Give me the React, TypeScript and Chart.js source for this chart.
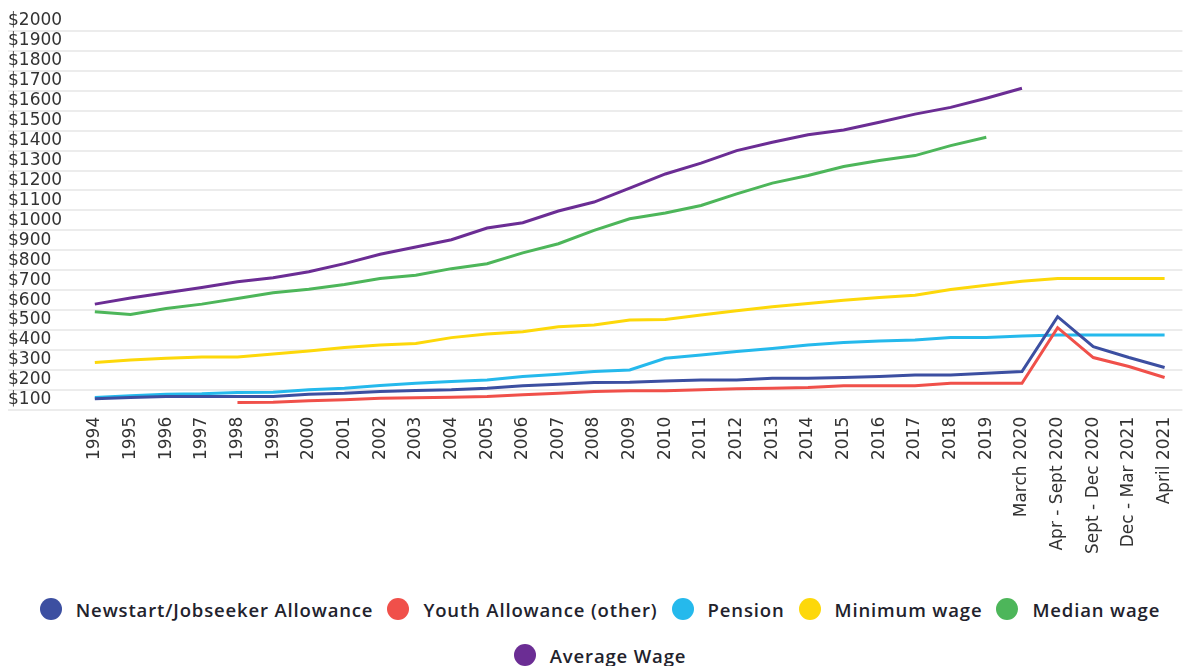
import React, { useEffect, useRef } from "react";
import { Chart, registerables } from "chart.js";

Chart.register(...registerables);

const periods: string[] = [
  "1994", "1995", "1996", "1997", "1998", "1999", "2000", "2001", "2002", "2003",
  "2004", "2005", "2006", "2007", "2008", "2009", "2010", "2011", "2012", "2013",
  "2014", "2015", "2016", "2017", "2018", "2019", "March 2020", "Apr - Sept 2020",
  "Sept - Dec 2020", "Dec - Mar 2021", "April 2021",
];

const newstart: (number | null)[] = [
  155, 162, 167, 167, 167, 167, 178, 183, 192, 197,
  200, 208, 220, 228, 237, 238, 245, 250, 250, 258,
  258, 262, 267, 275, 275, 283, 292, 567, 417, 362, 312,
];

const youthAllowance: (number | null)[] = [
  null, null, null, null, 137, 138, 145, 150, 158, 160,
  163, 167, 175, 183, 192, 195, 195, 200, 205, 208,
  212, 220, 220, 220, 233, 233, 233, 512, 362, 317, 262,
];

const pension: (number | null)[] = [
  162, 170, 178, 180, 187, 188, 200, 208, 222, 233,
  242, 250, 267, 278, 292, 300, 358, 375, 392, 408,
  425, 437, 445, 450, 462, 463, 470, 475, 475, 475, 475,
];

const minimumWage: (number | null)[] = [
  337, 350, 358, 365, 365, 380, 395, 412, 425, 433,
  462, 480, 492, 517, 525, 550, 553, 575, 597, 617,
  633, 650, 663, 675, 703, 725, 745, 758, 758, 758, 758,
];

const medianWage: (number | null)[] = [
  592, 578, 608, 630, 658, 687, 705, 728, 758, 775,
  808, 833, 887, 933, 1000, 1058, 1087, 1125, 1183, 1237,
  1275, 1320, 1350, 1375, 1425, 1467, null, null, null, null, null,
];

const averageWage: (number | null)[] = [
  630, 661, 687, 713, 742, 762, 792, 833, 880, 917,
  953, 1012, 1038, 1097, 1142, 1212, 1283, 1337, 1400, 1442,
  1480, 1503, 1542, 1583, 1617, 1663, 1713, null, null, null, null,
];

const seriesNames: string[] = [
  "Newstart/Jobseeker Allowance",
  "Youth Allowance (other)",
  "Pension",
  "Minimum wage",
  "Median wage",
  "Average Wage",
];

const seriesColors: string[] = [
  "#3c4fa1",
  "#f0504a",
  "#25b9ec",
  "#fdd80a",
  "#4db65a",
  "#6b2d94",
];

const yMin = 100;
const yMax = 2000;
const yStep = 100;

const tickFont = { family: "'DejaVu Sans', sans-serif", size: 17 };

export default function App() {
  const canvasRef = useRef<HTMLCanvasElement | null>(null);

  useEffect(() => {
    const canvas = canvasRef.current;
    if (!canvas) return;
    const values = [newstart, youthAllowance, pension, minimumWage, medianWage, averageWage];
    const chart = new Chart(canvas, {
      type: "line",
      data: {
        labels: periods,
        datasets: values.map((data, i) => ({
          label: seriesNames[i],
          data,
          borderColor: seriesColors[i],
          backgroundColor: seriesColors[i],
          borderWidth: 3,
          pointRadius: 0,
          pointHoverRadius: 0,
          tension: 0,
          fill: false,
          spanGaps: false,
        })),
      },
      options: {
        animation: false,
        responsive: true,
        maintainAspectRatio: false,
        layout: { padding: { top: 23, right: 0, bottom: 4, left: 0 } },
        plugins: {
          legend: { display: false },
          tooltip: { enabled: false },
        },
        scales: {
          x: {
            offset: true,
            grid: { display: false, drawTicks: false },
            border: { display: false },
            ticks: {
              autoSkip: false,
              minRotation: 90,
              maxRotation: 90,
              padding: 7,
              color: "#333333",
              font: tickFont,
            },
          },
          y: {
            min: yMin,
            max: yMax,
            border: { display: false },
            grid: {
              color: "#ececec",
              lineWidth: 2,
              tickLength: 69,
              tickColor: "#ececec",
            },
            afterFit: (scale: any) => {
              scale.width = 69;
            },
            ticks: {
              stepSize: yStep,
              autoSkip: false,
              crossAlign: "far",
              labelOffset: -10,
              padding: 0,
              color: "#333333",
              font: tickFont,
              callback: (v: any) => "$" + v,
            },
          },
        },
      },
    });
    return () => chart.destroy();
  }, []);

  const legendItem = (i: number) => (
    <div key={i} style={{ display: "flex", alignItems: "center" }}>
      <span
        style={{
          display: "inline-block",
          width: 22,
          height: 22,
          borderRadius: "50%",
          background: seriesColors[i],
          marginRight: 14,
        }}
      />
      <span>{seriesNames[i]}</span>
    </div>
  );

  return (
    <div style={{ marginRight: -8 }}>
      <div style={{ position: "relative", height: 557 }}>
        <canvas ref={canvasRef} />
      </div>
      <div
        style={{
          fontFamily: "'Open Sans', sans-serif",
          fontWeight: 600,
          fontSize: 18.5,
          letterSpacing: 0.85,
          color: "#22222c",
          marginTop: 33,
        }}
      >
        <div style={{ display: "flex", justifyContent: "center", gap: 14, height: 22 }}>
          {[0, 1, 2, 3, 4].map(legendItem)}
        </div>
        <div style={{ display: "flex", justifyContent: "center", gap: 14, height: 22, marginTop: 24 }}>
          {[5].map(legendItem)}
        </div>
      </div>
    </div>
  );
}
